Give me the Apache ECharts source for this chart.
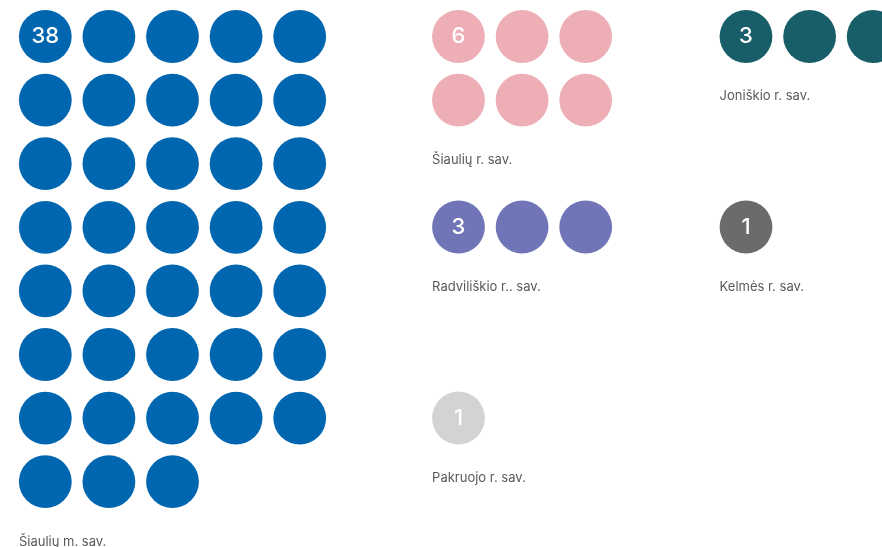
<!DOCTYPE html>
<html>
<head>
<meta charset="utf-8">
<script src="https://cdn.jsdelivr.net/npm/echarts@6/dist/echarts.min.js"></script>
<style>
  html, body { margin: 0; padding: 0; background: #fff; }
  #chart { width: 882px; height: 547px; }
</style>
</head>
<body>
<div id="chart"></div>
<script>
// Municipalities and how many units each one has
const municipalities = ['Šiaulių m. sav.', 'Šiaulių r. sav.', 'Joniškio r. sav.', 'Radviliškio r.. sav.', 'Kelmės r. sav.', 'Pakruojo r. sav.'];
const counts = [38, 6, 3, 3, 1, 1];
const dotColors = ['#0066b0', '#edaeb5', '#175e69', '#7075b7', '#6b6b6d', '#d3d3d5'];

// Layout: dots per row and the centre of the first dot of each block (px)
const perRow = [5, 3, 3, 3, 3, 3];
const blockOrigin = [[45.3, 36.5], [458.5, 36.5], [746, 36.5], [458.5, 227], [746, 227], [458.5, 418]];
const STEP = 63.6;
const RADIUS = 26.4;
const LABEL_GAP = 60;

const dotSeries = [];
const nameData = [];
counts.forEach((n, g) => {
  const [ox, oy] = blockOrigin[g];
  const pts = [];
  for (let i = 0; i < n; i++) {
    const c = i % perRow[g];
    const r = Math.floor(i / perRow[g]);
    pts.push({ value: [ox + c * STEP, oy + r * STEP], first: i === 0 });
  }
  const lastRow = Math.floor((n - 1) / perRow[g]);
  nameData.push({ value: [ox - RADIUS, oy + lastRow * STEP + LABEL_GAP], name: municipalities[g] });
  dotSeries.push({
    type: 'scatter',
    name: municipalities[g],
    data: pts,
    symbol: 'circle',
    symbolSize: RADIUS * 2,
    itemStyle: { color: dotColors[g], opacity: 1 },
    label: {
      show: true,
      position: 'inside',
      formatter: p => (p.data.first ? String(n) : ''),
      color: '#ffffff',
      fontFamily: 'Inter',
      fontWeight: 500,
      fontSize: 22
    },
    emphasis: { disabled: true },
    silent: true,
    animation: false
  });
});

dotSeries.push({
  type: 'scatter',
  data: nameData,
  symbolSize: 0,
  label: {
    show: true,
    position: 'inside',
    align: 'left',
    verticalAlign: 'middle',
    formatter: p => p.name,
    color: '#2e2e2e',
    fontFamily: 'Inter',
    fontSize: 13
  },
  silent: true,
  animation: false
});

const chart = echarts.init(document.getElementById('chart'), null, { renderer: 'canvas' });
chart.setOption({
  backgroundColor: '#ffffff',
  animation: false,
  grid: { left: 0, right: 0, top: 0, bottom: 0 },
  xAxis: { type: 'value', min: 0, max: 882, show: false },
  yAxis: { type: 'value', min: 0, max: 547, inverse: true, show: false },
  series: dotSeries
});
</script>
</body>
</html>
